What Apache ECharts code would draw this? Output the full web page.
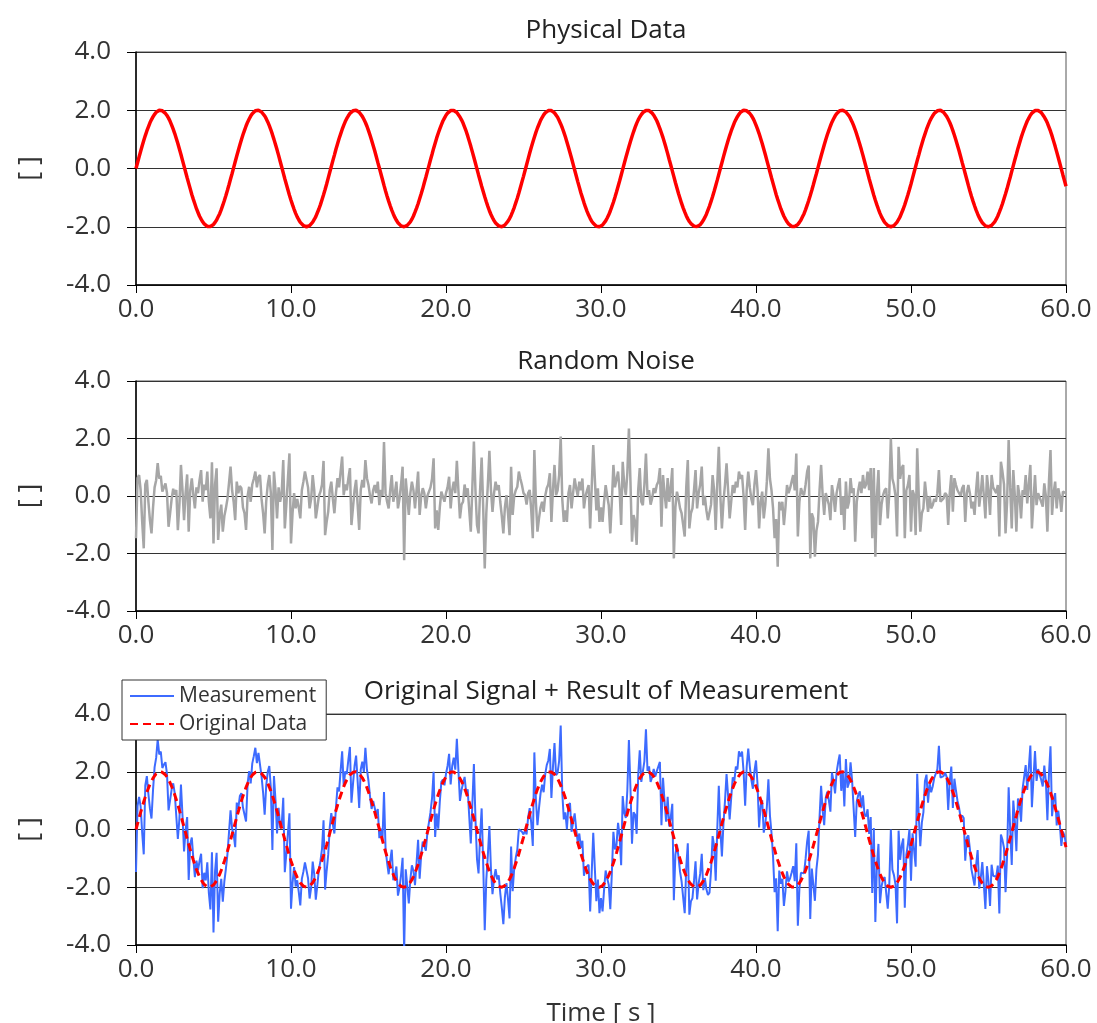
<!DOCTYPE html>
<html>
<head>
<meta charset="utf-8">
<script src="https://cdn.jsdelivr.net/npm/echarts@6/dist/echarts.min.js"></script>
<style>
  html, body { margin: 0; padding: 0; background: #fff; }
  #chart { width: 1097px; height: 1023px; }
</style>
</head>
<body>
<div id="chart"></div>
<script>
// panel titles and axis texts
const panelTitles = ['Physical Data', 'Random Noise', 'Original Signal + Result of Measurement']
const legendNames = ['Measurement', 'Original Data']
const yName = '[ ]'
const xName = 'Time [ s ]'
const sampleStep = 0.1 // s, one value every 0.1 s from 0 to 60

// physical data, 601 samples
const signal = [
  0.00,0.20,0.40,0.59,0.78,0.96,1.13,1.29,1.43,1.57,1.68,1.78,1.86,1.93,1.97,2.00,2.00,1.98,1.95,1.89,1.82,1.73,1.62,1.49,1.35,1.20,1.03,0.86,0.67,0.48,0.28,0.08,-0.12,-0.32,-0.51,-0.70,-0.89,-1.06,-1.22,-1.38,-1.51,-1.64,-1.74,-1.83,-1.90,-1.96,-1.99,-2.00,-1.99,-1.96,-1.92,-1.85,-1.77,-1.66,-1.55,-1.41,-1.26,-1.10,-0.93,-0.75,-0.56,-0.36,-0.17,
  0.03,0.23,0.43,0.62,0.81,0.99,1.16,1.31,1.46,1.59,1.70,1.80,1.88,1.94,1.98,2.00,2.00,1.98,1.94,1.88,1.81,1.71,1.60,1.47,1.33,1.17,1.00,0.82,0.64,0.45,0.25,0.05,-0.15,-0.35,-0.54,-0.73,-0.92,-1.09,-1.25,-1.40,-1.54,-1.66,-1.76,-1.85,-1.91,-1.96,-1.99,-2.00,-1.99,-1.96,-1.91,-1.84,-1.75,-1.65,-1.52,-1.39,-1.24,-1.07,-0.90,-0.72,-0.53,-0.33,-0.13,
  0.07,0.27,0.46,0.66,0.84,1.02,1.18,1.34,1.48,1.61,1.72,1.81,1.89,1.94,1.98,2.00,2.00,1.97,1.93,1.87,1.79,1.69,1.58,1.45,1.30,1.14,0.97,0.79,0.61,0.41,0.21,0.02,-0.18,-0.38,-0.58,-0.77,-0.95,-1.12,-1.28,-1.43,-1.56,-1.68,-1.78,-1.86,-1.92,-1.97,-2.00,-2.00,-1.99,-1.95,-1.90,-1.83,-1.74,-1.63,-1.50,-1.36,-1.21,-1.04,-0.87,-0.69,-0.49,-0.30,-0.10,
  0.10,0.30,0.49,0.69,0.87,1.05,1.21,1.36,1.50,1.63,1.73,1.83,1.90,1.95,1.99,2.00,1.99,1.97,1.92,1.86,1.77,1.67,1.56,1.42,1.28,1.12,0.94,0.76,0.57,0.38,0.18,-0.02,-0.22,-0.41,-0.61,-0.79,-0.97,-1.14,-1.30,-1.45,-1.58,-1.69,-1.79,-1.87,-1.93,-1.97,-2.00,-2.00,-1.98,-1.94,-1.89,-1.81,-1.72,-1.61,-1.48,-1.34,-1.18,-1.02,-0.84,-0.65,-0.46,-0.27,-0.07,
  0.13,0.33,0.53,0.72,0.90,1.07,1.24,1.39,1.52,1.65,1.75,1.84,1.91,1.96,1.99,2.00,1.99,1.96,1.91,1.85,1.76,1.65,1.53,1.40,1.25,1.09,0.91,0.73,0.54,0.35,0.15,-0.05,-0.25,-0.45,-0.64,-0.83,-1.00,-1.17,-1.33,-1.47,-1.60,-1.71,-1.81,-1.88,-1.94,-1.98,-2.00,-2.00,-1.98,-1.94,-1.88,-1.80,-1.70,-1.59,-1.46,-1.31,-1.16,-0.99,-0.81,-0.62,-0.43,-0.23,-0.03,
  0.17,0.37,0.56,0.75,0.93,1.10,1.26,1.41,1.55,1.67,1.77,1.85,1.92,1.97,1.99,2.00,1.99,1.95,1.90,1.83,1.74,1.64,1.51,1.37,1.22,1.06,0.88,0.70,0.51,0.31,0.12,-0.08,-0.28,-0.48,-0.67,-0.86,-1.03,-1.20,-1.35,-1.49,-1.62,-1.73,-1.82,-1.89,-1.95,-1.98,-2.00,-1.99,-1.97,-1.93,-1.86,-1.78,-1.68,-1.57,-1.43,-1.29,-1.13,-0.96,-0.78,-0.59,-0.40,-0.20,
  0.00,0.20,0.40,0.59,0.78,0.96,1.13,1.29,1.43,1.57,1.68,1.78,1.86,1.93,1.97,2.00,2.00,1.98,1.95,1.89,1.82,1.73,1.62,1.49,1.35,1.20,1.03,0.86,0.67,0.48,0.28,0.08,-0.12,-0.32,-0.51,-0.70,-0.89,-1.06,-1.22,-1.38,-1.51,-1.64,-1.74,-1.83,-1.90,-1.96,-1.99,-2.00,-1.99,-1.96,-1.92,-1.85,-1.77,-1.66,-1.55,-1.41,-1.26,-1.10,-0.93,-0.75,-0.56,-0.36,-0.17,
  0.03,0.23,0.43,0.62,0.81,0.99,1.16,1.31,1.46,1.59,1.70,1.80,1.88,1.94,1.98,2.00,2.00,1.98,1.94,1.88,1.81,1.71,1.60,1.47,1.33,1.17,1.00,0.82,0.64,0.45,0.25,0.05,-0.15,-0.35,-0.54,-0.73,-0.92,-1.09,-1.25,-1.40,-1.54,-1.66,-1.76,-1.85,-1.91,-1.96,-1.99,-2.00,-1.99,-1.96,-1.91,-1.84,-1.75,-1.65,-1.52,-1.39,-1.24,-1.07,-0.90,-0.72,-0.53,-0.33,-0.13,
  0.07,0.27,0.46,0.66,0.84,1.02,1.18,1.34,1.48,1.61,1.72,1.81,1.89,1.94,1.98,2.00,2.00,1.97,1.93,1.87,1.79,1.69,1.58,1.45,1.30,1.14,0.97,0.79,0.61,0.41,0.21,0.02,-0.18,-0.38,-0.58,-0.77,-0.95,-1.12,-1.28,-1.43,-1.56,-1.68,-1.78,-1.86,-1.92,-1.97,-2.00,-2.00,-1.99,-1.95,-1.90,-1.83,-1.74,-1.63,-1.50,-1.36,-1.21,-1.04,-0.87,-0.69,-0.49,-0.30,-0.10,
  0.10,0.30,0.49,0.69,0.87,1.05,1.21,1.36,1.50,1.63,1.73,1.83,1.90,1.95,1.99,2.00,1.99,1.97,1.92,1.86,1.77,1.67,1.56,1.42,1.28,1.12,0.94,0.76,0.57,0.38,0.18,-0.02,-0.22,-0.41,-0.61
]

// random noise, 601 samples, 10 per second
const noise = [
  -1.47,0.62,0.73,0.20,-0.90,-1.82,0.40,0.56,-0.20,-0.85,
  -1.30,-0.40,0.30,0.55,1.14,0.60,0.70,0.15,0.30,0.44,
  0.10,-1.07,-0.60,-0.10,0.25,0.05,0.21,-1.19,-0.30,1.08,
  0.20,-0.84,0.10,0.75,-1.24,0.20,0.61,0.05,-0.43,0.30,
  0.10,0.55,0.90,-0.20,0.40,0.20,0.85,-0.20,-0.78,1.17,
  -1.65,0.40,0.96,-1.53,-0.66,-0.30,-1.24,-0.70,-0.43,-0.10,
  0.45,1.02,0.20,-0.20,-0.84,0.50,0.10,0.35,0.27,-0.40,
  -0.60,-1.18,0.00,0.32,-0.20,0.40,0.60,0.85,0.30,0.65,
  0.73,-0.10,-0.60,-1.30,-0.20,0.40,0.73,0.10,-1.88,0.85,
  0.20,-0.78,0.30,-0.20,0.10,1.25,-1.13,-0.30,0.60,1.48,
  -1.65,-0.60,0.10,-0.43,-0.10,-0.40,-0.78,0.20,0.50,0.85,
  0.85,0.30,-0.43,-0.10,0.73,0.20,-0.78,-0.40,0.00,0.15,
  0.40,1.22,-1.36,-0.90,-0.55,0.20,0.50,-0.10,-0.60,0.10,
  0.62,0.30,0.85,1.37,0.03,0.40,0.20,0.60,0.97,-1.01,
  -0.40,0.20,0.56,-0.30,-1.18,0.21,0.56,0.30,1.25,0.62,
  0.38,0.00,-0.26,0.20,0.38,0.10,0.50,-0.32,0.21,0.00,
  1.88,0.10,-0.20,-0.43,0.20,0.73,-0.20,0.10,0.50,-0.43,
  -0.10,0.40,1.02,-2.23,0.61,0.00,-0.66,0.10,0.50,0.20,
  -0.43,0.20,0.85,-0.66,0.00,0.27,0.10,-0.43,0.00,0.15,
  0.30,0.60,1.31,-1.13,-0.50,-1.18,-0.40,0.15,0.10,-0.20,
  0.10,0.30,0.67,-0.43,0.20,0.50,0.10,1.22,0.20,-0.78,
  -0.30,-0.20,0.40,0.00,0.27,-0.50,-1.24,0.30,1.89,0.20,
  -1.01,-1.30,0.20,1.34,-0.40,-2.52,-0.60,0.40,1.57,0.20,
  -0.55,0.10,0.50,0.20,0.38,-0.20,-0.70,-1.30,-0.40,0.03,
  -0.60,-1.36,1.02,-0.66,0.00,0.20,0.32,0.85,0.60,0.38,
  0.10,0.03,-0.30,0.10,0.21,-0.50,-1.47,1.60,-0.20,-1.24,
  -0.78,-0.40,-0.20,-0.55,0.00,0.27,0.40,0.79,-0.90,0.20,
  1.08,0.03,0.20,0.73,2.07,-0.10,-0.90,-0.50,-0.90,0.10,
  0.38,-0.43,0.10,0.61,0.27,0.00,0.50,0.20,0.61,-0.43,
  0.00,0.20,0.38,-1.13,0.30,1.77,0.62,-0.50,0.27,-0.90,
  -0.40,-0.90,-0.20,0.38,0.00,-0.32,-1.30,-0.20,1.08,0.30,
  0.27,0.85,0.20,-1.01,1.19,0.40,0.03,0.80,2.35,0.50,
  -1.59,-0.66,-0.90,-1.70,0.20,0.97,-0.20,-0.32,0.40,1.48,
  0.03,0.20,-0.30,-0.08,0.27,0.10,0.38,0.50,0.97,-1.07,
  0.73,0.10,-0.43,0.62,-0.20,0.30,0.97,-2.17,-0.40,0.15,
  -0.10,-0.43,-0.60,-1.00,-1.41,0.30,1.25,-1.13,-0.60,-0.43,
  0.20,0.90,-0.43,0.10,0.40,1.02,-0.32,0.00,-0.50,-0.84,
  -0.90,-0.30,0.73,0.20,-1.18,0.40,1.71,0.00,-1.13,-0.20,
  0.40,1.14,0.20,-0.78,-0.20,0.38,0.10,0.50,0.30,0.85,
  0.60,0.73,0.00,-1.18,0.20,0.85,0.30,-0.10,-0.32,0.40,
  0.90,0.20,-1.13,-0.20,0.15,-0.78,-0.30,0.50,1.66,0.60,
  0.20,-0.43,-1.47,-0.80,-2.46,-0.20,-0.50,-0.20,-1.01,-0.40,
  0.38,0.10,0.27,0.50,0.73,0.20,1.48,-1.41,-0.20,0.27,
  0.10,0.03,0.40,0.85,1.06,-2.17,-0.60,-0.78,-2.11,-1.20,
  -0.90,0.20,1.08,0.03,-0.66,0.10,0.15,-0.30,-0.84,0.38,
  0.00,-0.55,0.10,0.38,0.62,-0.66,0.00,-1.18,0.50,-0.43,
  -0.20,0.62,0.10,0.27,-1.59,-0.20,0.20,0.50,0.10,0.73,
  0.27,0.40,0.85,0.20,0.97,-1.47,0.97,-2.11,0.00,0.90,
  -1.01,-0.30,0.03,0.20,0.27,-0.78,0.10,2.00,0.60,0.38,
  0.00,-1.41,1.71,0.60,0.97,1.08,-1.47,0.20,0.38,0.73,
  -1.24,0.20,0.03,-1.36,1.66,0.00,-1.24,-0.60,-0.43,0.50,
  0.56,-0.55,0.00,-0.43,-0.32,-0.10,-0.20,0.10,0.90,-0.20,
  -0.20,-0.08,0.10,0.03,-1.01,0.10,0.73,-0.55,0.62,0.38,
  0.20,0.15,0.00,0.27,0.38,-0.90,0.10,0.38,0.09,-0.43,
  -0.20,-0.66,0.20,0.85,-0.37,0.10,0.73,0.00,-0.78,0.73,
  0.20,-0.66,0.73,0.30,0.27,0.10,0.38,-1.41,1.19,0.85,
  0.40,-1.30,-0.20,1.95,0.30,-1.13,0.90,0.00,-1.24,0.38,
  0.00,-0.78,0.20,0.03,0.73,-0.26,0.40,1.08,-1.13,-0.20,
  0.73,-0.32,0.10,0.15,-0.20,-0.37,0.44,0.00,-1.24,0.50,
  1.60,-0.66,0.10,0.50,-0.43,0.27,0.00,-0.55,0.15,0.20,
  0.10
]

// measurement = physical data + noise, sample by sample
const measurement = signal.map((s, i) => +(s + noise[i]).toFixed(2))

const FONT = '"Open Sans", "Noto Sans", sans-serif'
const toPairs = (arr) => arr.map((v, i) => [+(i * sampleStep).toFixed(1), v])
const fmt = (v) => v.toFixed(1)

const chart = echarts.init(document.getElementById('chart'))

const grids = [
  { top: 52, height: 233 },
  { top: 381, height: 230 },
  { top: 714, height: 231 }
].map((g) => ({
  ...g,
  left: 136,
  right: 31,
  show: true,
  borderColor: '#555',
  borderWidth: 1,
  backgroundColor: 'transparent',
  containLabel: false,
  outerBoundsMode: 'none'
}))

const xAxes = grids.map((g, i) => ({
  type: 'value',
  gridIndex: i,
  min: 0,
  max: 60,
  interval: 10,
  axisLine: { show: true, onZero: false, lineStyle: { color: '#000', width: 1.5 } },
  axisTick: { show: true, length: 8, lineStyle: { color: '#000', width: 1 } },
  axisLabel: { color: '#333', fontSize: 26, fontFamily: FONT, margin: 12, formatter: fmt },
  splitLine: { show: false },
  name: i === 2 ? xName : '',
  nameLocation: 'middle',
  nameGap: 56,
  nameTextStyle: { color: '#333', fontSize: 26, fontFamily: FONT }
}))

const yAxes = grids.map((g, i) => ({
  type: 'value',
  gridIndex: i,
  min: -4,
  max: 4,
  interval: 2,
  axisLine: { show: true, onZero: false, lineStyle: { color: '#000', width: 1.5 } },
  axisTick: { show: true, length: 9, lineStyle: { color: '#000', width: 1 } },
  axisLabel: { color: '#333', fontSize: 26, fontFamily: FONT, margin: 25, formatter: fmt },
  splitLine: { show: true, lineStyle: { color: '#333', width: 1 } },
  name: yName,
  nameLocation: 'middle',
  nameRotate: 90,
  nameGap: 92,
  nameTextStyle: { color: '#333', fontSize: 27, fontFamily: FONT }
}))

const titleTops = [13, 344, 674]

const option = {
  animation: false,
  backgroundColor: '#fff',
  title: panelTitles.map((text, i) => ({
    text,
    left: 601,
    top: titleTops[i],
    textAlign: 'center',
    textStyle: { color: '#222', fontSize: 26, fontWeight: 'normal', fontFamily: FONT }
  })),
  legend: {
    data: legendNames,
    orient: 'vertical',
    left: 122,
    top: 680,
    backgroundColor: '#fff',
    borderColor: '#333',
    borderWidth: 1,
    borderRadius: 0,
    padding: [3, 10, 3, 7],
    itemGap: 2,
    itemWidth: 44,
    itemHeight: 14,
    itemTextGap: 12,
    selectedMode: false,
    itemStyle: { opacity: 0 },
    textStyle: { color: '#333', fontSize: 21, lineHeight: 26, fontFamily: FONT }
  },
  grid: grids,
  xAxis: xAxes,
  yAxis: yAxes,
  series: [
    {
      name: 'Physical Data',
      type: 'line',
      xAxisIndex: 0,
      yAxisIndex: 0,
      data: toPairs(signal),
      symbol: 'none',
      silent: true,
      lineStyle: { color: '#ff0000', width: 3.5 },
      itemStyle: { color: '#ff0000' }
    },
    {
      name: 'Random Noise',
      type: 'line',
      xAxisIndex: 1,
      yAxisIndex: 1,
      data: toPairs(noise),
      symbol: 'none',
      silent: true,
      lineStyle: { color: '#a6a6a6', width: 2.5 },
      itemStyle: { color: '#a6a6a6' }
    },
    {
      name: legendNames[0],
      type: 'line',
      xAxisIndex: 2,
      yAxisIndex: 2,
      data: toPairs(measurement),
      symbol: 'none',
      silent: true,
      clip: true,
      lineStyle: { color: '#3d6bff', width: 2 },
      itemStyle: { color: '#3d6bff' }
    },
    {
      name: legendNames[1],
      type: 'line',
      xAxisIndex: 2,
      yAxisIndex: 2,
      data: toPairs(signal),
      symbol: 'none',
      silent: true,
      lineStyle: { color: '#ff0000', width: 3, type: [8, 5] },
      itemStyle: { color: '#ff0000' }
    }
  ]
}

chart.setOption(option)
</script>
</body>
</html>
